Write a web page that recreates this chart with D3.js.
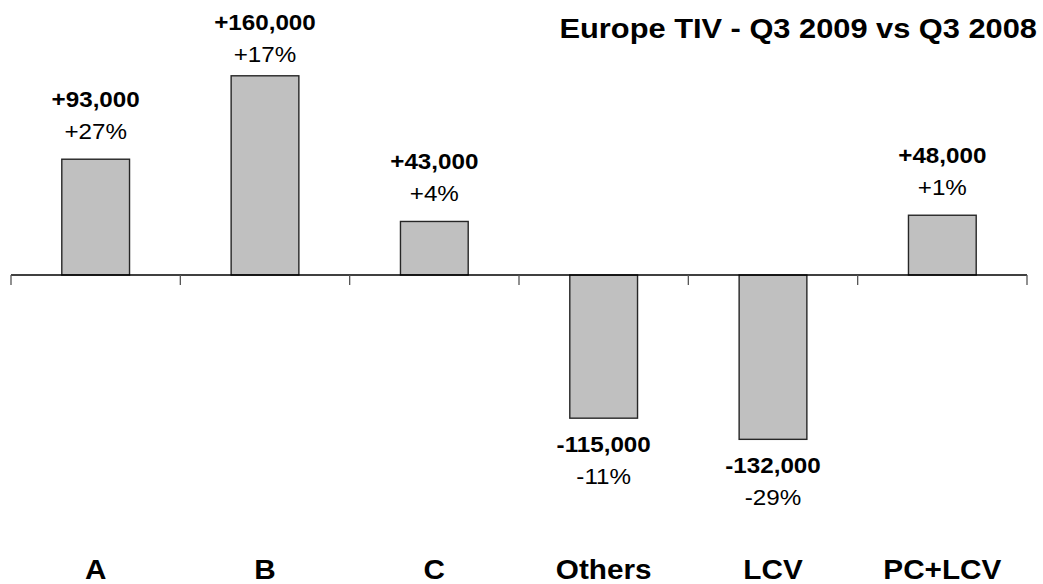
<!DOCTYPE html>
<html>
<head>
<meta charset="utf-8">
<script src="https://cdn.jsdelivr.net/npm/d3@7"></script>
<style>
  body { margin: 0; background: #fff; }
  svg { display: block; font-family: "Liberation Sans", Arial, sans-serif; }
</style>
</head>
<body>
<div id="chart"></div>
<script>
document.addEventListener('DOMContentLoaded', init, false);

const categories = ["A", "B", "C", "Others", "LCV", "PC+LCV"];
const deltas = [93000, 160000, 43000, -115000, -132000, 48000];
const deltaLabels = ["+93,000", "+160,000", "+43,000", "-115,000", "-132,000", "+48,000"];
const pctLabels = ["+27%", "+17%", "+4%", "-11%", "-29%", "+1%"];
const chartTitle = "Europe TIV - Q3 2009 vs Q3 2008";

const g_bar = "#c0c0c0";
const g_edge = "#262626";
const stretch = 1.1; // text in the source is a bit wider than tall

function init() {
  var width = 1043,
    height = 584;

  var svg = d3.select("#chart")
    .append("svg")
    .attr("width", width)
    .attr("height", height);

  var data = categories.map(function (c, i) {
    return { cat: c, value: deltas[i], label: deltaLabels[i], pct: pctLabels[i] };
  });

  var x = d3.scaleBand()
    .domain(categories)
    .range([11, 1027])
    .paddingInner(0.6)
    .paddingOuter(0.3);

  var y = d3.scaleLinear()
    .domain([-200000, 200000])
    .range([524, 26]);

  var gap = (x.step() - x.bandwidth()) / 2;

  // bars
  svg.append("g")
    .selectAll("rect")
    .data(data)
    .enter().append("rect")
    .attr("x", function (d) { return x(d.cat); })
    .attr("width", x.bandwidth())
    .attr("y", function (d) { return y(Math.max(0, d.value)); })
    .attr("height", function (d) { return Math.abs(y(d.value) - y(0)); })
    .attr("fill", g_bar)
    .attr("stroke", g_edge)
    .attr("stroke-width", 1.4);

  // baseline + ticks between categories
  var bounds = categories.map(function (c) { return x(c) - gap; });
  bounds.push(x(categories[categories.length - 1]) + x.bandwidth() + gap);

  svg.append("line")
    .attr("x1", bounds[0]).attr("x2", bounds[bounds.length - 1])
    .attr("y1", y(0)).attr("y2", y(0))
    .attr("stroke", "#000")
    .attr("stroke-width", 1.3);

  svg.append("g")
    .selectAll("line")
    .data(bounds)
    .enter().append("line")
    .attr("x1", function (d) { return d; })
    .attr("x2", function (d) { return d; })
    .attr("y1", y(0))
    .attr("y2", y(0) + 10)
    .attr("stroke", "#555")
    .attr("stroke-width", 1.3);

  function stretchedText(g, px, py, txt, size, weight, anchor) {
    g.append("text")
      .attr("transform", "translate(" + px + "," + py + ") scale(" + stretch + ",1)")
      .attr("text-anchor", anchor || "middle")
      .attr("font-size", size)
      .attr("font-weight", weight)
      .attr("fill", "#000")
      .text(txt);
  }

  // value + percent labels
  var lab = svg.append("g");
  data.forEach(function (d) {
    var cx = x(d.cat) + x.bandwidth() / 2;
    var base;
    if (d.value >= 0) {
      base = Math.max(y(d.value) - 52, 30);
    } else {
      base = y(d.value) + 34;
    }
    stretchedText(lab, cx, base, d.label, 22, "bold");
    stretchedText(lab, cx, base + 32, d.pct, 22, "normal");
  });

  // category labels
  var cats = svg.append("g");
  categories.forEach(function (c) {
    stretchedText(cats, x(c) + x.bandwidth() / 2, 579, c, 27, "bold");
  });

  // title
  stretchedText(svg, 1037, 38, chartTitle, 28, "bold", "end");
}
</script>
</body>
</html>
